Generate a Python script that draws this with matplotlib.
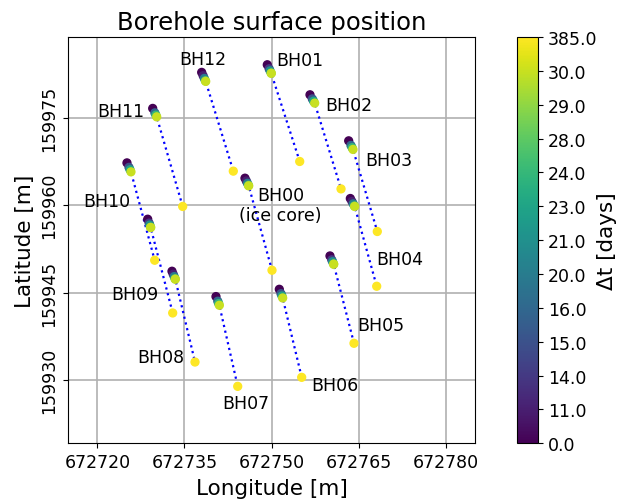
import matplotlib
matplotlib.use('Agg')
import matplotlib.pyplot as plt
from matplotlib.ticker import MultipleLocator, ScalarFormatter

# unique time offsets (days) used for the colour scale
dt_values = [0, 11, 14, 15, 16, 20, 21, 23, 24, 28, 29, 30, 385]

names = ['BH00', 'BH01', 'BH02', 'BH03', 'BH04', 'BH05', 'BH06',
         'BH07', 'BH08', 'BH09', 'BH10', 'BH11', 'BH12']

days = [
    [0, 11, 20, 28, 30, 385],
    [0, 14, 21, 29, 30, 385],
    [0, 15, 23, 30, 385],
    [0, 16, 24, 30, 385],
    [0, 11, 20, 28, 30, 385],
    [0, 14, 21, 29, 30, 385],
    [0, 15, 23, 30, 385],
    [0, 16, 24, 30, 385],
    [0, 11, 20, 28, 30, 385],
    [0, 14, 21, 29, 30, 385],
    [0, 15, 23, 30, 385],
    [0, 16, 24, 30, 385],
    [0, 11, 20, 28, 30, 385],
]

east = [
    [672745.41, 672745.65, 672745.84, 672746.01, 672746.05, 672750.06],
    [672749.25, 672749.57, 672749.73, 672749.92, 672749.94, 672754.83],
    [672756.60, 672757.00, 672757.22, 672757.41, 672761.94],
    [672763.26, 672763.65, 672763.85, 672764.00, 672768.18],
    [672763.54, 672763.82, 672764.04, 672764.24, 672764.29, 672768.08],
    [672760.04, 672760.34, 672760.49, 672760.66, 672760.68, 672764.17],
    [672751.32, 672751.61, 672751.77, 672751.90, 672755.17],
    [672740.42, 672740.73, 672740.88, 672741.00, 672744.16],
    [672732.85, 672733.06, 672733.23, 672733.38, 672733.42, 672736.81],
    [672728.67, 672728.91, 672729.03, 672729.16, 672729.18, 672732.97],
    [672725.10, 672725.45, 672725.63, 672725.79, 672729.87],
    [672729.53, 672729.90, 672730.08, 672730.22, 672734.69],
    [672737.96, 672738.21, 672738.42, 672738.60, 672738.65, 672743.40],
]

north = [
    [159964.65, 159964.16, 159963.77, 159963.42, 159963.33, 159948.83],
    [159984.14, 159983.45, 159983.10, 159982.71, 159982.66, 159967.52],
    [159978.98, 159978.27, 159977.88, 159977.55, 159962.81],
    [159971.07, 159970.28, 159969.89, 159969.59, 159955.49],
    [159961.16, 159960.65, 159960.24, 159959.88, 159959.79, 159946.08],
    [159951.29, 159950.62, 159950.29, 159949.90, 159949.86, 159936.28],
    [159945.56, 159944.81, 159944.41, 159944.07, 159930.43],
    [159944.31, 159943.51, 159943.11, 159942.81, 159928.88],
    [159948.66, 159948.15, 159947.74, 159947.37, 159947.28, 159933.06],
    [159957.60, 159956.93, 159956.60, 159956.22, 159956.17, 159941.49],
    [159967.28, 159966.51, 159966.10, 159965.74, 159950.55],
    [159976.64, 159975.87, 159975.48, 159975.19, 159959.79],
    [159982.83, 159982.26, 159981.79, 159981.38, 159981.28, 159965.86],
]

label_text = ['BH00\n(ice core)', 'BH01', 'BH02', 'BH03', 'BH04', 'BH05', 'BH06',
              'BH07', 'BH08', 'BH09', 'BH10', 'BH11', 'BH12']
label_pos = [(672751.5, 159960.0), (672754.9, 159984.9), (672763.3, 159977.2),
             (672770.2, 159967.7), (672772.1, 159950.7), (672768.8, 159939.4),
             (672760.9, 159929.1), (672745.6, 159926.0), (672731.0, 159934.0),
             (672726.5, 159944.7), (672721.7, 159960.7), (672724.1, 159976.2),
             (672738.2, 159985.1)]

fig = plt.figure(figsize=(6.19, 5.02), dpi=100)
ax = fig.add_axes([0.1103, 0.1150, 0.6571, 0.8092])
cax = fig.add_axes([0.8352, 0.1150, 0.0339, 0.8092])

for i in range(len(names)):
    ax.plot(east[i], north[i], 'b:', lw=1.6, zorder=2)
    idx = [dt_values.index(d) for d in days[i]]
    sc = ax.scatter(east[i], north[i], c=idx, cmap='viridis', vmin=0,
                    vmax=len(dt_values) - 1, s=32, zorder=3)
    ax.text(label_pos[i][0], label_pos[i][1], label_text[i], fontsize=12.5,
            ha='center', va='center', multialignment='center', linespacing=1.15)

ax.set_xlim(672715.0, 672785.0)
ax.set_ylim(159919.1, 159988.9)
ax.xaxis.set_major_locator(MultipleLocator(15))
ax.yaxis.set_major_locator(MultipleLocator(15))
for axis in (ax.xaxis, ax.yaxis):
    fmt = ScalarFormatter(useOffset=False)
    axis.set_major_formatter(fmt)
ax.tick_params(labelsize=12.5)
plt.setp(ax.get_yticklabels(), rotation=90, va='center')
ax.grid(True, color='#b0b0b0', lw=1.2)
ax.set_axisbelow(True)
ax.set_xlabel('Longitude [m]', fontsize=15.5, labelpad=5)
ax.set_ylabel('Latitude [m]', fontsize=15.5)
ax.set_title('Borehole surface position', fontsize=17.5)

cb = fig.colorbar(sc, cax=cax, ticks=range(len(dt_values)))
cb.ax.set_yticklabels(['%.1f' % v for v in dt_values])
cb.ax.tick_params(labelsize=12.5)
cb.set_label('\u0394t [days]', fontsize=15.5, labelpad=0)

fig.savefig('out.png', dpi=100)
